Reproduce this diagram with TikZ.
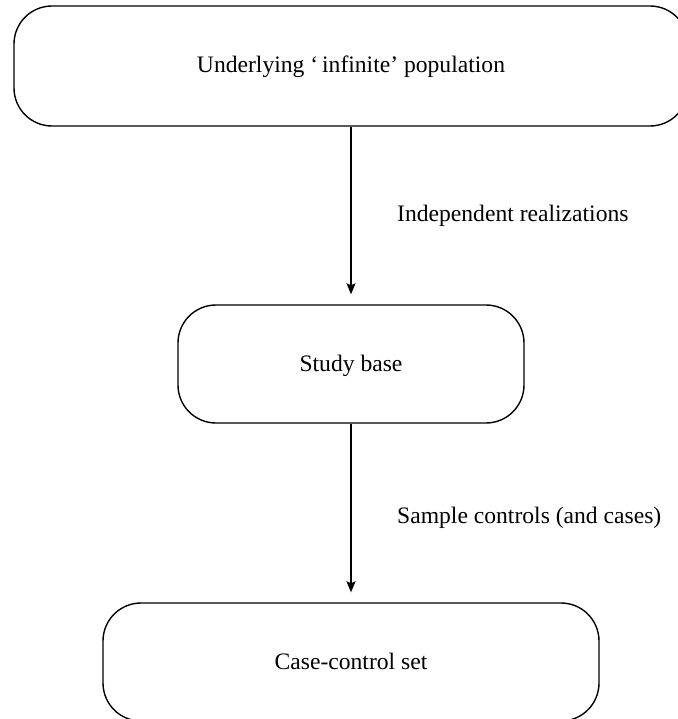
\documentclass[tikz,border=0pt]{standalone}
\usepackage{fontspec}
\setmainfont{Liberation Serif}
\usetikzlibrary{arrows.meta}
\begin{document}
\begin{tikzpicture}[x=1pt,y=-1pt,
  box/.style={draw,line width=1.4pt,rounded corners=38pt,inner sep=0pt,
    text height=17pt,text depth=3pt,
    font=\fontsize{23.6}{28}\selectfont},
  arr/.style={line width=1.4pt,-{Stealth[length=11pt,width=9pt,inset=2pt]},shorten >=10pt},
  lab/.style={anchor=base west,inner sep=0pt,font=\fontsize{23.6}{28}\selectfont}]
\useasboundingbox (0,0) rectangle (677,719);
\node[box,minimum width=674pt,minimum height=120pt] (top) at (351,66) {Underlying `\,infinite' population};
\node[box,minimum width=346pt,minimum height=118pt] (mid) at (351,364) {Study base};
\node[box,minimum width=496pt,minimum height=118pt] (bot) at (351,662) {Case-control set};
\draw[arr] (top) -- (mid);
\draw[arr] (mid) -- (bot);
\node[lab] (l1) at (397,222) {Independent realizations};
\node[lab] (l2) at (397,523) {Sample controls (and cases)};
\end{tikzpicture}
\end{document}
